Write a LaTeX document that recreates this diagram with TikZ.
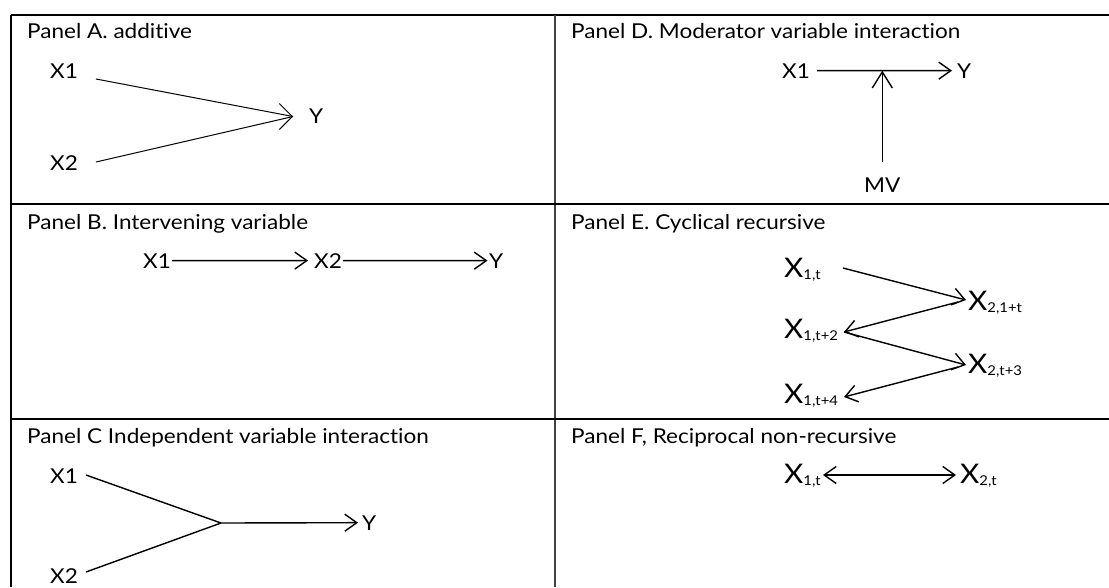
\documentclass[tikz,border=0pt]{standalone}
\usepackage{fontspec}
\setmainfont{Lato}[FakeStretch=1.1,Ligatures=NoCommon]
\usetikzlibrary{arrows.meta}
\newcommand\mysub[1]{{\fontsize{13.5}{13.5}\selectfont\raisebox{-2pt}{#1}}}
\begin{document}
\begin{tikzpicture}[x=1pt,y=-1pt,
  lbl/.style={inner sep=0pt, anchor=base west, font=\fontsize{20.5}{20.5}\selectfont},
  big/.style={inner sep=0pt, anchor=base west, font=\fontsize{27}{27}\selectfont},
  rule/.style={line width=1.5pt},
  midrule/.style={line width=1.1pt, black!75},
  conn/.style={line width=1.4pt},
  thinconn/.style={line width=1pt},
  arr/.style={conn, -{Straight Barb[length=12pt,width=17pt]}},
  varr/.style={conn, -{Straight Barb[length=16pt,width=20pt]}},
  dblarr/.style={conn, {Straight Barb[length=12pt,width=17pt]}-{Straight Barb[length=12pt,width=17pt]}},
  arrA/.style={thinconn, -{Straight Barb[length=13pt,width=26pt]}},
  ]
\useasboundingbox (0,0) rectangle (1109,587);
\fill[white] (0,0) rectangle (1109,587);

% table rules
\draw[rule] (11,15) -- (1109,15);
\draw[rule] (11,15) -- (11,587);
\draw[midrule] (555,15) -- (555,587);
\draw[rule] (11,204) -- (1109,204);
\draw[rule] (11,419) -- (1109,419);

% headers
\node[lbl] (hA) at (27,38.5) {Panel A. additive};
\node[lbl] (hD) at (571,38.5) {Panel D. Moderator variable interaction};
\node[lbl] (hB) at (27,229) {Panel B. Intervening variable};
\node[lbl] (hE) at (571,229) {Panel E. Cyclical recursive};
\node[lbl] (hC) at (27,443) {Panel C Independent variable interaction};
\node[lbl] (hF) at (571,443) {Panel F, Reciprocal non-recursive};

% Panel A
\node[lbl] (aX1) at (50,78) {X1};
\node[lbl] (aX2) at (50,170) {X2};
\node[lbl] (aY) at (309,123) {Y};
\coordinate (a1) at (96,79);
\coordinate (a2) at (96,162);
\coordinate (aT) at (293,116.5);
\coordinate (aTb) at (292,116.5);
\draw[thinconn] (a1) -- (aT);
\draw[thinconn] (a2) -- (aT);
\draw[arrA] (aTb) -- (aT);

% Panel B
\node[lbl] (bX1) at (143,268) {X1};
\node[lbl] (bX2) at (314,268) {X2};
\node[lbl] (bY) at (489,268) {Y};
\draw[arr, shorten <=1pt, shorten >=6pt] (bX1.east) -- (bX2.west);
\draw[arr, shorten <=1pt, shorten >=1.5pt] (bX2.east) -- (bY.west);

% Panel C
\node[lbl] (cX1) at (50,483) {X1};
\node[lbl] (cX2) at (50,583.5) {X2};
\node[lbl] (cY) at (362,530) {Y};
\coordinate (c1) at (86,475);
\coordinate (c2) at (86,572);
\coordinate (cJ) at (221,523);
\draw[conn] (c1) -- (cJ);
\draw[conn] (c2) -- (cJ);
\draw[arr, shorten >=4pt] (cJ) -- (cY.west);

% Panel D
\node[lbl] (dX1) at (782,78) {X1};
\node[lbl] (dY) at (957,78) {Y};
\node[lbl] (dMV) at (864,192) {MV};
\draw[arr, shorten <=7pt, shorten >=5pt] (dX1.east) -- (dY.west);
\draw[varr, shorten <=15pt] (dMV.north) -- (dMV.north |- dX1.east);

% Panel E
\node[big] (e1) at (784,277) {X\mysub{1,t}};
\node[big] (e2) at (968,310) {X\mysub{2,1+t}};
\node[big] (e3) at (784,338) {X\mysub{1,t+2}};
\node[big] (e4) at (968,373) {X\mysub{2,t+3}};
\node[big] (e5) at (784,403) {X\mysub{1,t+4}};
\coordinate (e1s) at (843,268);
\coordinate (e2t) at (966,300);
\coordinate (e2s) at (958,302);
\coordinate (e3t) at (844,332);
\coordinate (e4t) at (966,365);
\coordinate (e4s) at (958,367);
\coordinate (e5t) at (844,397);
\draw[arr] (e1s) -- (e2t);
\draw[arr] (e2s) -- (e3t);
\draw[arr] (e3t) -- (e4t);
\draw[arr] (e4s) -- (e5t);

% Panel F
\node[big] (f1) at (784,483) {X\mysub{1,t}};
\node[big] (f2) at (960,483) {X\mysub{2,t}};
\coordinate (f1s) at (823,475);
\coordinate (f2t) at (956,475);
\draw[dblarr] (f1s) -- (f2t);
\end{tikzpicture}
\end{document}
